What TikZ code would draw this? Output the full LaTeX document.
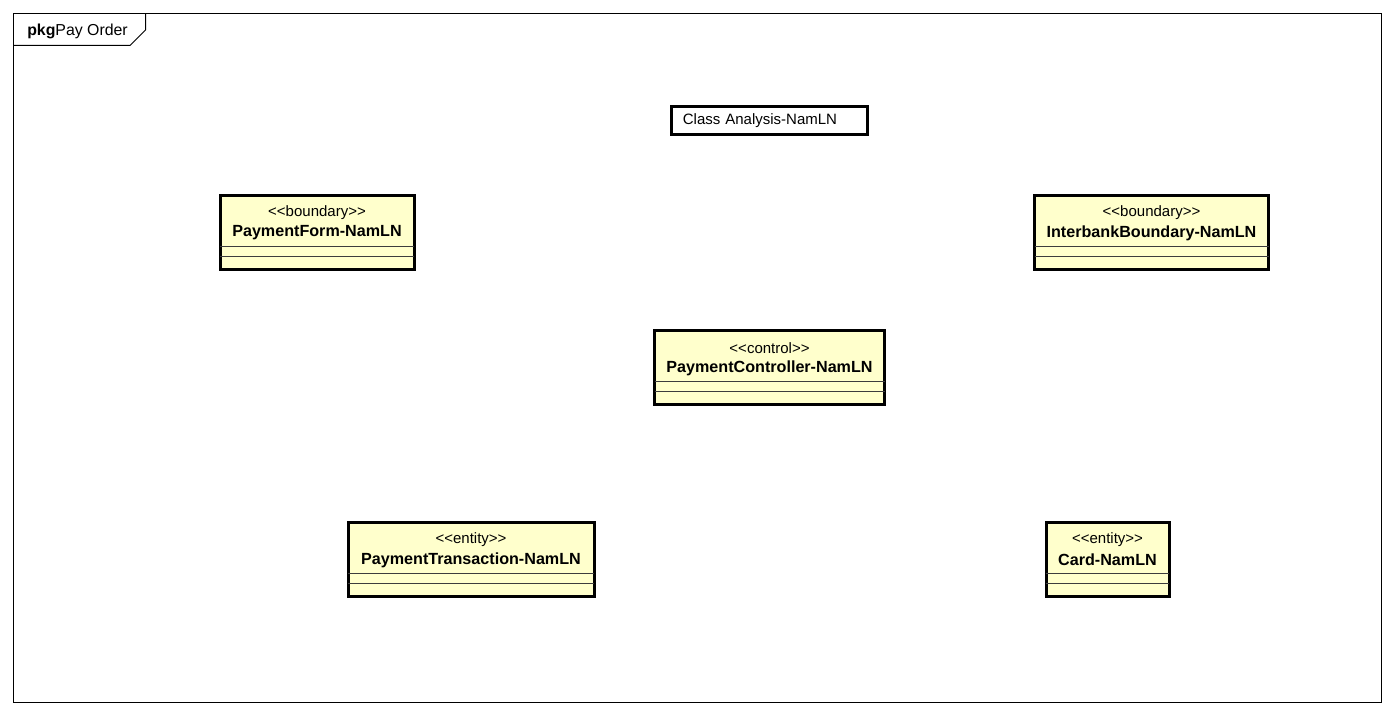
\documentclass[tikz,border=0pt]{standalone}
\usepackage{fontspec}
\setmainfont{Liberation Sans}
\usepackage{tikz}
\usetikzlibrary{positioning}
\usepackage{xcolor}
\definecolor{umlyellow}{RGB}{255,255,204}
\definecolor{umlline}{RGB}{60,60,60}
\tikzstyle{classbox} = [draw=black, line width=2.25pt, fill=umlyellow, inner sep=0pt, outer sep=0pt]
\tikzstyle{notebox} = [draw=black, line width=2.25pt, fill=white, inner xsep=8.5pt, inner ysep=0pt, outer sep=0pt]
\tikzstyle{stereo} = [font=\fontsize{11.25}{13}\selectfont, inner sep=0pt]
\tikzstyle{cname} = [font=\fontsize{12.1}{14}\selectfont\bfseries, inner sep=0pt]
\tikzstyle{sep} = [line width=0.75pt, color=umlline]

\begin{document}
\begin{tikzpicture}[x=0.75pt, y=-0.75pt]
\useasboundingbox (0,0) rectangle (1394,716);

% Package frame
\draw[line width=0.75pt] (13.5,13.5) rectangle (1381.5,702.5);
\draw[line width=0.75pt] (13.5,45.5) -- (130,45.5) -- (145.5,30) -- (145.5,13.5);
\node[anchor=west, inner sep=0pt, font=\fontsize{11.9}{14}\selectfont] (pkg) at (27,31.5) {\textbf{pkg}Pay Order};

% Title note
\node[notebox, minimum height=21pt, text width=130pt, align=left, font=\fontsize{11.25}{13}\selectfont] (title) at (769.5,121) {Class Analysis-NamLN};

% Classes
\node[classbox, minimum width=145.5pt, minimum height=55.5pt] (form) at (317,232.5) {};
\node[classbox, minimum width=175.5pt, minimum height=55.5pt] (interbank) at (1151.5,232.5) {};
\node[classbox, minimum width=172.5pt, minimum height=55.5pt] (ctrl) at (769.5,367.5) {};
\node[classbox, minimum width=184.5pt, minimum height=55.5pt] (trans) at (471,559.5) {};
\node[classbox, minimum width=92.25pt, minimum height=55.5pt] (card) at (1107.5,559.5) {};

% Stereotypes
\node[stereo] (formst) at ([yshift=-13pt]form.north) {<{}<boundary>{}>};
\node[stereo] (interbankst) at ([yshift=-13pt]interbank.north) {<{}<boundary>{}>};
\node[stereo] (ctrlst) at ([yshift=-13pt]ctrl.north) {<{}<control>{}>};
\node[stereo] (transst) at ([yshift=-13pt]trans.north) {<{}<entity>{}>};
\node[stereo] (cardst) at ([yshift=-13pt]card.north) {<{}<entity>{}>};

% Names
\node[cname] (formnm) at ([yshift=-28pt]form.north) {PaymentForm-NamLN};
\node[cname] (interbanknm) at ([yshift=-28pt]interbank.north) {InterbankBoundary-NamLN};
\node[cname] (ctrlnm) at ([yshift=-28pt]ctrl.north) {PaymentController-NamLN};
\node[cname] (transnm) at ([yshift=-28pt]trans.north) {PaymentTransaction-NamLN};
\node[cname] (cardnm) at ([yshift=-28pt]card.north) {Card-NamLN};

% Compartments
\foreach \c in {form,interbank,ctrl,trans,card} {
  \draw[sep] ([yshift=17.6pt]\c.south west) -- ([yshift=17.6pt]\c.south east);
  \draw[sep] ([yshift=9.4pt]\c.south west) -- ([yshift=9.4pt]\c.south east);
}
\end{tikzpicture}
\end{document}
